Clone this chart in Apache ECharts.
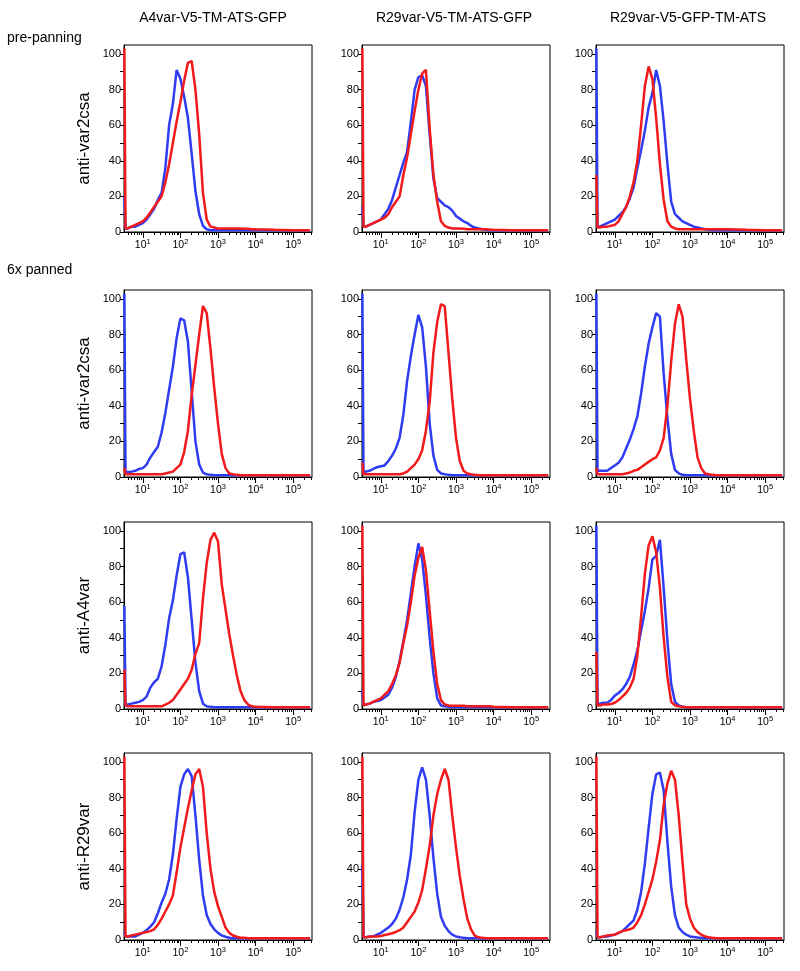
<!DOCTYPE html>
<html>
<head>
<meta charset="utf-8">
<script src="https://cdn.jsdelivr.net/npm/echarts@6/dist/echarts.min.js"></script>
<style>
  html, body { margin: 0; padding: 0; background: #fff; }
  #chart { width: 800px; height: 971px; }
</style>
</head>
<body>
<div id="chart"></div>
<script>
// bin positions as log10(fluorescence); first bin = pile-up at the axis minimum
var logBins = [0.51, 0.54, 0.6, 0.7, 0.8, 0.9, 1.0, 1.1, 1.2, 1.3, 1.4, 1.5, 1.6, 1.7, 1.8, 1.9,
  2.0, 2.1, 2.2, 2.3, 2.4, 2.5, 2.6, 2.7, 2.8, 2.9, 3.0, 3.1, 3.2, 3.3, 3.4, 3.5, 3.6, 3.7, 3.8, 3.9,
  4.0, 4.5, 5.0, 5.45];

var columnTitles = ["A4var-V5-TM-ATS-GFP", "R29var-V5-TM-ATS-GFP", "R29var-V5-GFP-TM-ATS"];
var rowLabels = ["anti-var2csa", "anti-var2csa", "anti-A4var", "anti-R29var"];
var groupLabels = ["pre-panning", "6x panned"];
var yTickLabels = [0, 20, 40, 60, 80, 100];
var xDecades = [1, 2, 3, 4, 5];

// pre-panning, anti-var2csa
var preVar2csa_A4_blue = [20, 2, 2, 3, 3, 4, 5, 7, 10, 13, 18, 22, 36, 60, 72, 91, 86, 76, 64, 44, 23, 10, 3.5, 1.5, 1, 1, 1, 1, 1, 1, 1, 1, 1, 1, 1, 1, 1, 1, 1, 1];
var preVar2csa_A4_red = [103, 2, 2, 3, 4, 5, 6, 8, 11, 14, 17, 20, 28, 38, 50, 62, 73, 85, 95, 96, 80, 55, 22, 7, 3, 2.5, 2, 2, 2, 2, 2, 2, 2, 1.8, 1.8, 1.6, 1.5, 1.2, 1, 1];
var preVar2csa_R29_blue = [15, 3, 3, 4, 5, 6, 7, 10, 13, 18, 25, 32, 39, 45, 62, 80, 87, 88, 82, 55, 30, 19, 17, 15, 14, 12, 9, 7.5, 6, 5, 3.5, 2.5, 2, 1.5, 1.2, 1, 1, 1, 1, 1];
var preVar2csa_R29_red = [103, 3, 3, 4, 5, 6, 7, 8, 10, 14, 17, 20, 32, 42, 55, 68, 80, 89, 91, 58, 32, 17, 6, 3.5, 2.5, 2, 2, 2, 1.8, 1.6, 1.5, 1.5, 1.5, 1.5, 1.5, 1.3, 1.2, 1, 1, 1];
var preVar2csa_R29g_blue = [103, 3, 3, 4, 5, 6, 7, 9, 11, 14, 19, 25, 36, 46, 57, 70, 78, 91, 82, 62, 38, 17, 10, 8, 6, 5, 4, 3, 2.5, 2, 1.5, 1.2, 1, 1, 1, 1, 1, 1, 1, 1];
var preVar2csa_R29g_red = [32, 2.5, 2.5, 3, 3, 3.5, 4, 6, 10, 14, 20, 28, 40, 60, 82, 93, 86, 64, 38, 18, 6, 3, 2, 1.5, 1.5, 1.5, 1.5, 1.5, 1.5, 1.5, 1.5, 1.5, 1.5, 1.5, 1.5, 1.5, 1.5, 1.2, 1, 1];

// 6x panned, anti-var2csa
var panVar2csa_A4_blue = [103, 2.5, 2.8, 3, 3.5, 4.5, 5, 7, 11, 14, 17, 25, 36, 49, 62, 78, 89, 88, 76, 48, 20, 7, 2.5, 1.5, 1.2, 1, 1, 1, 1, 1, 1, 1, 1, 1, 1, 1, 1, 1, 1, 1];
var panVar2csa_A4_red = [5, 1.5, 1.5, 1.5, 1.5, 1.5, 1.5, 1.5, 1.5, 1.5, 1.5, 1.5, 2, 2.5, 3, 5, 7, 14, 26, 46, 63, 80, 96, 92, 72, 50, 30, 13, 5, 2, 1.5, 1.2, 1, 1, 1, 1, 1, 1, 1, 1];
var panVar2csa_R29_blue = [103, 2.5, 3, 3.5, 4.5, 5.5, 6, 6.5, 9, 12, 16, 22, 35, 54, 68, 80, 91, 84, 62, 30, 12, 4, 2, 1.5, 1.2, 1, 1, 1, 1, 1, 1, 1, 1, 1, 1, 1, 1, 1, 1, 1];
var panVar2csa_R29_red = [8, 1.5, 1.5, 1.5, 1.5, 1.5, 1.5, 1.5, 1.5, 1.5, 1.5, 1.5, 2, 3, 5, 7, 10, 15, 26, 42, 70, 87, 97, 96, 70, 44, 22, 9, 3.5, 2, 1.5, 1.2, 1, 1, 1, 1, 1, 1, 1, 1];
var panVar2csa_R29g_blue = [103, 3.5, 3.5, 3.5, 3.5, 5, 6.5, 8, 11, 16, 21, 27, 34, 47, 62, 75, 84, 92, 90, 58, 33, 13, 4, 2, 1.2, 1, 1, 1, 1, 1, 1, 1, 1, 1, 1, 1, 1, 1, 1, 1];
var panVar2csa_R29g_red = [5, 1.5, 1.5, 1.5, 1.5, 1.5, 1.5, 1.5, 1.5, 2, 2.5, 3.5, 4, 5.5, 7, 8.5, 10, 11, 15, 22, 40, 65, 86, 97, 90, 66, 44, 26, 11, 5, 2, 1.5, 1.2, 1, 1, 1, 1, 1, 1, 1];

// 6x panned, anti-A4var
var panA4var_A4_blue = [58, 2.2, 2.5, 3, 3.5, 4, 5, 7, 12, 15, 17, 24, 36, 51, 61, 75, 87, 88, 74, 50, 26, 10, 3, 1.5, 1.2, 1, 1, 1, 1, 1, 1, 1, 1, 1, 1, 1, 1, 1, 1, 1];
var panA4var_A4_red = [22, 2, 1.5, 1.5, 1.5, 1.5, 1.5, 1.5, 1.5, 1.5, 1.5, 1.5, 2.5, 3.5, 5, 8, 11, 14, 17, 22, 31, 37, 62, 82, 95, 99, 94, 70, 56, 42, 30, 19, 10, 5, 2.5, 1.5, 1.2, 1, 1, 1];
var panA4var_R29_blue = [10, 2, 2.5, 3, 4, 4.5, 5, 6.5, 8, 12, 18, 27, 38, 50, 65, 80, 93, 84, 64, 40, 20, 6, 2, 1.5, 1.2, 1, 1, 1, 1, 1, 1, 1, 1, 1, 1, 1, 1, 1, 1, 1];
var panA4var_R29_red = [103, 2, 2.5, 3, 4, 5, 6, 8, 10, 14, 19, 26, 37, 47, 60, 75, 85, 91, 78, 55, 32, 14, 5, 2.5, 2, 1.8, 1.8, 1.8, 1.8, 1.6, 1.6, 1.5, 1.5, 1.5, 1.5, 1.5, 1.3, 1, 1, 1];
var panA4var_R29g_blue = [103, 3, 3, 3.5, 3.5, 5, 7.5, 9, 11, 14, 18, 25, 33, 44, 55, 68, 84, 86, 95, 68, 38, 14, 4, 2, 1.2, 1, 1, 1, 1, 1, 1, 1, 1, 1, 1, 1, 1, 1, 1, 1];
var panA4var_R29g_red = [32, 2, 2, 2.5, 2.5, 2.8, 3.5, 5, 7, 9, 12, 17, 30, 52, 76, 92, 97, 88, 68, 40, 18, 4, 2, 1.5, 1.2, 1, 1, 1, 1, 1, 1, 1, 1, 1, 1, 1, 1, 1, 1, 1];

// 6x panned, anti-R29var
var panR29var_A4_blue = [5, 2, 2, 2, 2, 3, 4, 5.5, 7.5, 10, 15, 21, 26, 34, 48, 68, 86, 93, 96, 92, 70, 45, 25, 14, 9, 6, 4, 2.5, 1.8, 1.3, 1, 1, 1, 1, 1, 1, 1, 1, 1, 1];
var panR29var_A4_red = [103, 2, 2, 2.5, 3, 3.5, 4, 4.5, 5, 6, 8.5, 12, 16, 20, 25, 38, 52, 63, 74, 84, 93, 96, 86, 60, 40, 27, 19, 13, 7, 4, 2.5, 1.8, 1.3, 1.2, 1, 1, 1, 1, 1, 1];
var panR29var_R29_blue = [42, 1.5, 1.5, 2, 2, 3, 4, 5.5, 7, 9, 12, 17, 24, 34, 48, 72, 90, 97, 90, 70, 46, 26, 13, 8, 5, 3, 2, 1.5, 1.2, 1, 1, 1, 1, 1, 1, 1, 1, 1, 1, 1];
var panR29var_R29_red = [103, 1.5, 1.5, 1.8, 2, 2, 2.2, 2.8, 3.2, 3.8, 4.5, 5.5, 7, 10, 13, 16, 21, 28, 40, 53, 70, 82, 90, 96, 90, 70, 52, 36, 23, 12, 6, 2.5, 1.5, 1.2, 1, 1, 1, 1, 1, 1];
var panR29var_R29g_blue = [5, 1.5, 1.5, 1.8, 2, 2.5, 3, 4, 5, 7, 9, 11, 17, 27, 43, 63, 82, 93, 94, 84, 55, 30, 14, 7, 4.5, 3, 2, 1.7, 1.4, 1.2, 1, 1, 1, 1, 1, 1, 1, 1, 1, 1];
var panR29var_R29g_red = [103, 1.5, 1.5, 2, 2.5, 2.8, 3, 4, 5, 5.5, 6, 7, 10, 14, 20, 27, 34, 44, 56, 76, 88, 95, 90, 70, 44, 20, 12, 7, 4.5, 3, 2, 1.5, 1.2, 1, 1, 1, 1, 1, 1, 1];

var panels = [
  [preVar2csa_A4_blue, preVar2csa_A4_red], [preVar2csa_R29_blue, preVar2csa_R29_red], [preVar2csa_R29g_blue, preVar2csa_R29g_red],
  [panVar2csa_A4_blue, panVar2csa_A4_red], [panVar2csa_R29_blue, panVar2csa_R29_red], [panVar2csa_R29g_blue, panVar2csa_R29g_red],
  [panA4var_A4_blue, panA4var_A4_red], [panA4var_R29_blue, panA4var_R29_red], [panA4var_R29g_blue, panA4var_R29g_red],
  [panR29var_A4_blue, panR29var_A4_red], [panR29var_R29_blue, panR29var_R29_red], [panR29var_R29g_blue, panR29var_R29g_red]
];

var colLeft = [124, 362, 596];
var rowTop = [45, 290, 522, 753];
var plotW = 188, plotH = 187;
var FONT = '"Liberation Sans", Arial, sans-serif';
var BLUE = '#2f3cf2', RED = '#f21a1a';

// log minor tick positions (2..9 x 10^n) plus decades
var minorTicks = [];
for (var n = 0; n <= 5; n++) {
  for (var k = 1; k <= 9; k++) {
    var p = n + Math.log10(k);
    if (p >= 0.5 && p <= 5.5) minorTicks.push(p);
  }
}
var yTicks = [0, 10, 20, 30, 40, 50, 60, 70, 80, 90, 100];

var grids = [], xAxes = [], yAxes = [], series = [];
panels.forEach(function (pair, i) {
  var r = Math.floor(i / 3), c = i % 3;
  grids.push({
    left: colLeft[c], top: rowTop[r], width: plotW, height: plotH,
    show: true, borderColor: '#000', borderWidth: 1, backgroundColor: 'transparent'
  });
  // main x axis: minor ticks + labels
  xAxes.push({
    type: 'value', gridIndex: i, position: 'bottom', min: 0.5, max: 5.5,
    axisLine: { lineStyle: { color: '#000', width: 1 } },
    axisTick: { customValues: minorTicks, length: 3, lineStyle: { color: '#000' } },
    axisLabel: {
      customValues: xDecades, margin: 6, color: '#000',
      formatter: function (v) { return '{b|10}{s|' + Math.round(v) + '}'; },
      rich: {
        b: { fontSize: 10.5, fontFamily: FONT, color: '#000' },
        s: { fontSize: 7.5, fontFamily: FONT, color: '#000', padding: [0, 0, 7, 0] }
      }
    },
    splitLine: { show: false }
  });
  // second x axis: longer decade ticks
  xAxes.push({
    type: 'value', gridIndex: i, position: 'bottom', min: 0.5, max: 5.5,
    axisLine: { show: false },
    axisTick: { customValues: xDecades, length: 6, lineStyle: { color: '#000' } },
    axisLabel: { show: false },
    splitLine: { show: false }
  });
  yAxes.push({
    type: 'value', gridIndex: i, min: 0, max: 105,
    axisLine: { show: true, lineStyle: { color: '#000', width: 1 } },
    axisTick: { show: true, customValues: yTicks, length: 4, lineStyle: { color: '#000' } },
    axisLabel: { customValues: yTickLabels, margin: 3, fontSize: 11, fontFamily: FONT, color: '#000' },
    splitLine: { show: false }
  });
  [BLUE, RED].forEach(function (col, j) {
    series.push({
      type: 'line', xAxisIndex: 2 * i, yAxisIndex: i,
      data: logBins.map(function (x, idx) { return [x, pair[j][idx]]; }),
      showSymbol: false, symbol: 'none', clip: true,
      lineStyle: { color: col, width: 2.5 },
      itemStyle: { color: col }
    });
  });
});

var graphics = [];
var titleX = [213, 454, 688];
columnTitles.forEach(function (t, c) {
  graphics.push({ type: 'text', x: titleX[c], y: 18,
    style: { text: t, font: '14px ' + FONT, fill: '#000', textAlign: 'center', textVerticalAlign: 'middle' } });
});
var groupY = [38, 270];
groupLabels.forEach(function (t, g) {
  graphics.push({ type: 'text', x: 7, y: groupY[g],
    style: { text: t, font: '14px ' + FONT, fill: '#000', textAlign: 'left', textVerticalAlign: 'middle' } });
});
rowLabels.forEach(function (t, r) {
  graphics.push({ type: 'text', x: 84, y: rowTop[r] + plotH / 2, rotation: Math.PI / 2,
    style: { text: t, font: '17px ' + FONT, fill: '#000', textAlign: 'center', textVerticalAlign: 'middle' } });
});

var chart = echarts.init(document.getElementById('chart'), null, { renderer: 'canvas' });
chart.setOption({
  backgroundColor: '#fff',
  animation: false,
  grid: grids,
  xAxis: xAxes,
  yAxis: yAxes,
  series: series,
  graphic: graphics
});
</script>
</body>
</html>
